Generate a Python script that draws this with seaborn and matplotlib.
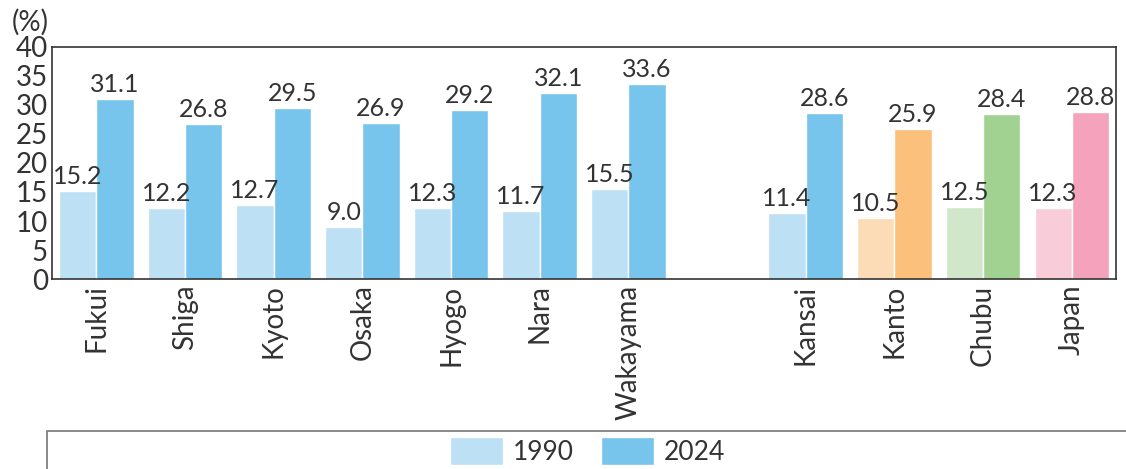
import numpy as np
import pandas as pd
import matplotlib
matplotlib.use("Agg")
import matplotlib.pyplot as plt
import seaborn as sns
from matplotlib.patches import Rectangle
from matplotlib.patches import Patch

regions = ["Fukui", "Shiga", "Kyoto", "Osaka", "Hyogo", "Nara", "Wakayama", "",
           "Kansai", "Kanto", "Chubu", "Japan"]
v1990 = [15.2, 12.2, 12.7, 9.0, 12.3, 11.7, 15.5, np.nan, 11.4, 10.5, 12.5, 12.3]
v2024 = [31.1, 26.8, 29.5, 26.9, 29.2, 32.1, 33.6, np.nan, 28.6, 25.9, 28.4, 28.8]
years = ["1990", "2024"]

# colours per region (light for 1990, dark for 2024)
blue = ("#bde0f5", "#77c4ec")
pal = {"Kanto": ("#fcdcb7", "#fbc07c"),
       "Chubu": ("#d0e7ca", "#a2d291"),
       "Japan": ("#f8cdd9", "#f5a2bc")}

df = pd.DataFrame({
    "region": regions * 2,
    "year": [years[0]] * len(regions) + [years[1]] * len(regions),
    "value": v1990 + v2024,
})

sns.set_style("white")
plt.rcParams["font.family"] = ["Lato", "DejaVu Sans"]

fig = plt.figure(figsize=(11.26, 4.69), dpi=100)
ax = fig.add_axes([0.0462, 0.405, 0.945, 0.495])

sns.barplot(data=df, x="region", y="value", hue="year", order=regions,
            hue_order=years, palette=list(blue), width=0.84, saturation=1,
            ax=ax, legend=False)

# recolour bars and add value labels
for k, cont in enumerate(ax.containers):
    for bar in cont.patches:
        h = bar.get_height()
        if not np.isfinite(h) or h <= 0:
            continue
        xc = bar.get_x() + bar.get_width() / 2
        r = regions[int(round(xc))]
        if r in pal:
            bar.set_facecolor(pal[r][k])
        ax.text(xc, h + 0.5, f"{h:.1f}", ha="center", va="bottom",
                fontsize=18, color="#333333")

ax.set_ylim(0, 40)
ax.set_xlim(-0.5, len(regions) - 0.5)
ax.set_yticks(range(0, 41, 5))
ax.set_xlabel("")
ax.set_ylabel("")
ax.tick_params(axis="y", labelsize=20, colors="#333333", length=0, pad=3)
ax.tick_params(axis="x", labelsize=20, colors="#333333", length=0, rotation=90, pad=4)
ax.set_xticks(np.arange(-0.5, len(regions) - 0.4, 1), minor=True)
ax.tick_params(axis="x", which="minor", direction="in", length=5, color="#555555", width=1)
for s in ax.spines.values():
    s.set_color("#333333")
    s.set_linewidth(1.2)

ax.text(-0.02, 1.05, "(%)", transform=ax.transAxes, fontsize=20,
        color="#333333", ha="center", va="bottom")

# legend box spanning the width
fig.patches.append(Rectangle((0.0417, -0.02), 1.0, 0.1, transform=fig.transFigure,
                             fill=False, edgecolor="#777777", linewidth=1.2))
handles = [Patch(facecolor=blue[0]), Patch(facecolor=blue[1])]
fig.legend(handles, years, loc="center", bbox_to_anchor=(0.522, 0.038), ncol=2,
           frameon=False, fontsize=19, handlelength=2.0, handleheight=1.2,
           columnspacing=1.0, handletextpad=0.4, labelcolor="#333333")

fig.savefig("out.png", dpi=100)
